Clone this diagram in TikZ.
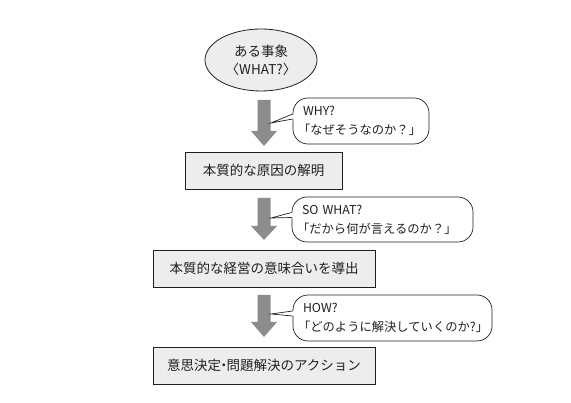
\documentclass[tikz,border=0pt]{standalone}
\usepackage{fontspec}
\setmainfont{Noto Sans CJK JP}
\usetikzlibrary{shapes.geometric,calc}
\definecolor{boxgray}{HTML}{EDEDED}
\definecolor{arrowgray}{HTML}{8C8C8C}
\definecolor{ink}{HTML}{231F20}
\newcommand\blkarrow[4]{% name, top, head start, tip
  \fill[arrowgray] (257.5,#2) -- (270.5,#2) -- (270.5,#3) -- (277,#3) -- (264,#4)
    -- (251,#3) -- (257.5,#3) -- cycle;
  \coordinate (#1) at (271,#3);}
\begin{document}
\begin{tikzpicture}[x=1pt,y=-1pt,
  every node/.style={text=ink},
  stepbox/.style={draw=ink, line width=0.8pt, fill=boxgray, minimum height=37pt,
    inner sep=0pt, font=\fontsize{13.5}{16}\selectfont},
  callout/.style={draw=ink, line width=0.7pt, fill=white, rounded corners=15pt,
    inner xsep=10pt, inner ysep=0pt, align=left,
    font=\fontsize{12.3}{19}\selectfont},
  tail/.style={draw=ink, line width=0.7pt}]
\useasboundingbox (0,0) rectangle (571,403);
\fill[white] (0,0) rectangle (571,403);

% start event
\node[ellipse, draw=ink, line width=0.8pt, fill=boxgray, minimum width=112pt,
  minimum height=62pt, inner sep=0pt, align=center,
  font=\fontsize{13.5}{18}\selectfont] (ev) at (261,60) {ある事象\\〈WHAT?〉};

% steps
\node[stepbox, minimum width=157pt] (b1) at (263.5,170.5) {本質的な原因の解明};
\node[stepbox, minimum width=222pt] (b2) at (264,268.5) {本質的な経営の意味合いを導出};
\node[stepbox, minimum width=222pt] (b3) at (264,365.5) {意思決定\kern-0.3em・\kern-0.3em問題解決のアクション};

% block arrows
\blkarrow{t1}{100}{131}{146}
\blkarrow{t2}{198}{226}{240}
\blkarrow{t3}{295}{322}{337}

% callouts
\node[callout, text width=116pt, minimum height=46pt] (c1) at (361,121)
  {WHY?\\\hspace*{-0.4em}「なぜそうなのか？」};
\node[callout, text width=161pt, minimum height=45pt] (c2) at (382.5,219.5)
  {SO WHAT?\\\hspace*{-0.4em}「だから何が言えるのか？」};
\node[callout, text width=179pt, minimum height=46pt] (c3) at (392.5,318)
  {HOW?\\\hspace*{-0.4em}「どのように解決していくのか?」};

% tails
\foreach \c/\t in {c1/t1,c2/t2,c3/t3}{
  \coordinate (p) at ($(\t)+(0,-8)$);
  \coordinate (q1) at ($(\c.west)+(0,-7)$);
  \coordinate (q2) at ($(\c.west)+(0,-2)$);
  \fill[white] ($(q1)+(1.5,0)$) -- (p) -- ($(q2)+(1.5,0)$) -- cycle;
  \draw[tail] (q1) -- (p) -- (q2);
}
\end{tikzpicture}
\end{document}
